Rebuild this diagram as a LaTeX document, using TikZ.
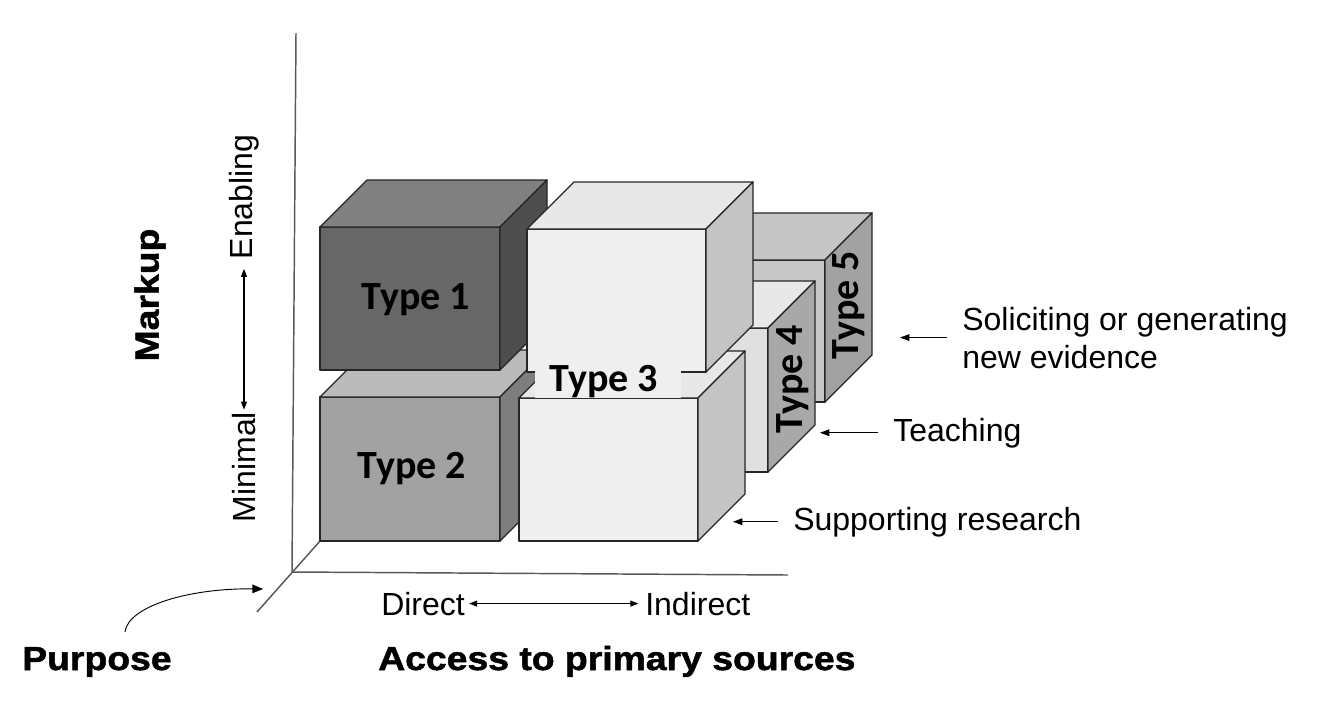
\documentclass[tikz,border=0pt]{standalone}
\usepackage{fontspec}
\setmainfont{Liberation Sans}
\newfontfamily\typefont{Carlito}
\newfontfamily\heavyfont{Liberation Sans}[BoldFeatures={FakeStretch=1.12,FakeBold=1.5}]
\usetikzlibrary{arrows.meta}

\definecolor{cAfront}{HTML}{676767}
\definecolor{cAtop}{HTML}{808080}
\definecolor{cAright}{HTML}{4E4E4E}
\definecolor{cBfront}{HTML}{A2A2A2}
\definecolor{cBtop}{HTML}{BBBBBB}
\definecolor{cBright}{HTML}{7E7E7E}
\definecolor{cCfront}{HTML}{EFEFEF}
\definecolor{cCtop}{HTML}{E8E8E8}
\definecolor{cCright}{HTML}{C4C4C4}
\definecolor{cDfront}{HTML}{E0E0E0}
\definecolor{cDtop}{HTML}{E8E8E8}
\definecolor{cDright}{HTML}{A8A8A8}
\definecolor{cEfront}{HTML}{C8C8C8}
\definecolor{cEtop}{HTML}{C6C6C6}
\definecolor{cEright}{HTML}{A2A2A2}

\tikzset{
  cubeedge/.style={draw=black!85, line width=1pt, line join=round},
  axisline/.style={draw=black!65, line width=1.1pt},
  arr/.style={-{Triangle[length=7pt,width=5pt]}, line width=0.8pt},
  dblarr/.style={{Triangle[length=6pt,width=4.5pt]}-{Triangle[length=6pt,width=4.5pt]}, line width=0.8pt},
  lab/.style={inner sep=0pt, font=\fontsize{24}{28.5}\selectfont},
  heavylab/.style={inner sep=0pt, font=\heavyfont\bfseries\fontsize{25}{30}\selectfont},
  typelab/.style={inner sep=0pt, font=\typefont\bfseries\fontsize{30}{36}\selectfont},
}

\newcommand\drawcube[7]{%
  \filldraw[cubeedge,fill=#5] (#1,#2) rectangle ++(#3,#4);
  \filldraw[cubeedge,fill=#6] (#1,#2) -- ++(47,-47) -- ++(#3,0) -- ++(-47,47) -- cycle;
  \filldraw[cubeedge,fill=#7] (#1+#3,#2) -- ++(47,-47) -- ++(0,#4) -- ++(-47,47) -- cycle;}

\begin{document}
\begin{tikzpicture}[x=0.75pt,y=-0.75pt]
\useasboundingbox (0,0) rectangle (1327,726);
\fill[white] (0,0) rectangle (1327,726);

% axes
\coordinate (O) at (292,572);
\coordinate (vtop) at (296,33);
\coordinate (hend) at (788,575);
\coordinate (dlow) at (257,612);
\coordinate (dhigh) at (320,541);
\draw[axisline] (vtop) -- (O) -- (hend);
\draw[axisline] (dlow) -- (dhigh);

% cubes (back to front)
\drawcube{645}{260}{180}{142}{cEfront}{cEtop}{cEright}
\drawcube{588}{328}{180}{144}{cDfront}{cDtop}{cDright}
\drawcube{320}{397}{180}{144}{cBfront}{cBtop}{cBright}
\drawcube{320}{227}{180}{143}{cAfront}{cAtop}{cAright}
\drawcube{519}{398}{179}{143}{cCfront}{cCtop}{cCright}
\drawcube{527}{229}{179}{143}{cCfront}{cCtop}{cCright}

% type labels
\node[typelab] (t1) at (416,300) {Type 1};
\node[typelab] (t2) at (412,469) {Type 2};
\node[typelab, fill=cCfront, minimum width=110pt, minimum height=21pt] (t3) at (608,382) {\hspace*{-6pt}Type 3};
\node[typelab, rotate=90] (t4) at (793,379) {Type 4};
\node[typelab, rotate=90] (t5) at (849,305) {Type 5};

% markup axis labels
\node[heavylab, rotate=90] (markup) at (150,295) {Markup};
\node[lab, rotate=90] (enab) at (244,197) {Enabling};
\node[lab, rotate=90] (mini) at (244,467) {Minimal};
\draw[dblarr, shorten <=1.5pt, shorten >=7pt] (mini.east) -- (enab.west);

% access axis labels
\node[lab, anchor=base west] (direct) at (381,615) {Direct};
\node[lab, anchor=base west] (indirect) at (645,615) {Indirect};
\draw[dblarr, shorten <=3pt, shorten >=5pt] (direct.east) -- (indirect.west);
\node[heavylab, anchor=base west] (access) at (378,670) {Access to primary sources};

% purpose
\node[heavylab, anchor=base west] (purpose) at (22,670) {Purpose};
\coordinate (pstart) at (125,632);
\coordinate (ptip) at (263,589);
\draw[-{Triangle[length=8pt,width=6.5pt]}, line width=0.7pt] (pstart) .. controls (128,606) and (190,588) .. (ptip);

% purpose labels on the right
\node[lab, anchor=base west, align=left] (solic) at (962,368) {Soliciting or generating\\new evidence};
\node[lab, anchor=base west] (teach) at (893,441) {Teaching};
\node[lab, anchor=base west] (supp) at (793,530) {Supporting research};
\coordinate (p5) at (900,0);
\coordinate (p4) at (820,0);
\coordinate (p3) at (733,0);
\draw[arr, shorten <=11pt] (solic.west) -- (p5 |- solic.west);
\draw[arr, shorten <=11pt] (teach.west) -- (p4 |- teach.west);
\draw[arr, shorten <=11pt] (supp.west) -- (p3 |- supp.west);
\end{tikzpicture}
\end{document}
